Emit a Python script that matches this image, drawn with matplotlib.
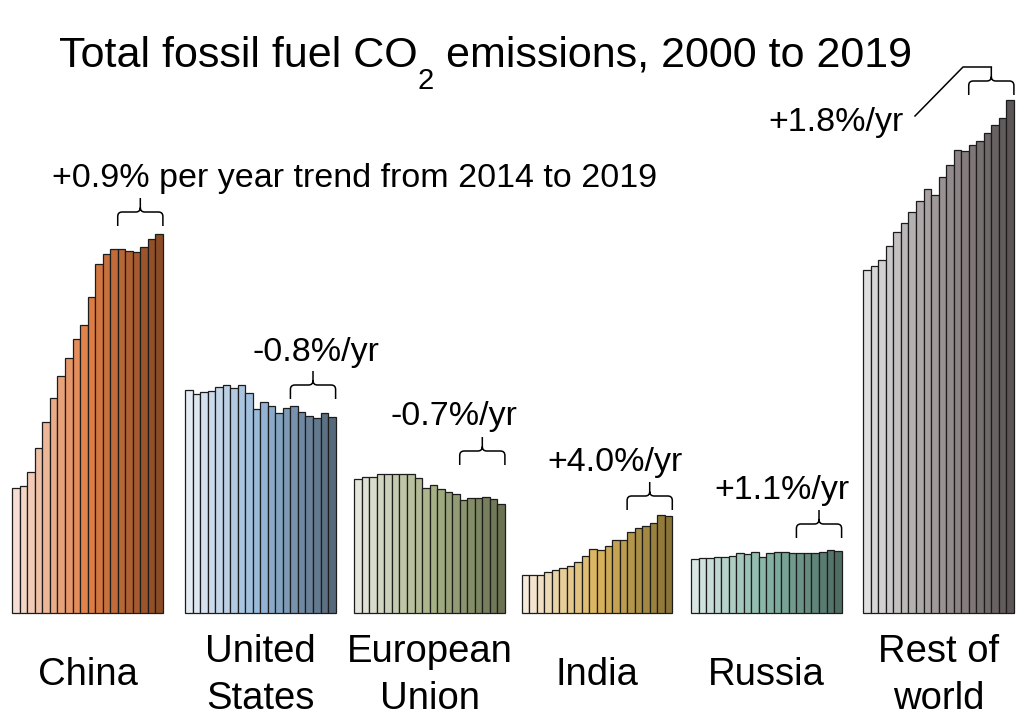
import matplotlib
matplotlib.use("Agg")
import matplotlib.pyplot as plt
from matplotlib.colors import LinearSegmentedColormap
from matplotlib.path import Path
from matplotlib.patches import PathPatch
import numpy as np

plt.rcParams['font.family'] = ['Liberation Sans', 'DejaVu Sans']

# ---------------- data (GtCO2 per year, 2000..2019) ----------------
years = list(range(2000, 2020))
regions = ["China", "United\nStates", "European\nUnion", "India", "Russia", "Rest of\nworld"]

china = [3.37, 3.42, 3.78, 4.44, 5.14, 5.77, 6.37, 6.86, 7.37, 7.74,
         8.49, 9.38, 9.64, 9.78, 9.79, 9.72, 9.70, 9.83, 10.05, 10.18]
usa = [5.99, 5.89, 5.93, 5.97, 6.07, 6.12, 6.04, 6.12, 5.91, 5.48,
       5.67, 5.56, 5.37, 5.50, 5.56, 5.41, 5.30, 5.25, 5.38, 5.27]
eu = [3.60, 3.66, 3.66, 3.74, 3.74, 3.74, 3.74, 3.73, 3.64, 3.35,
      3.44, 3.33, 3.26, 3.19, 3.04, 3.10, 3.09, 3.12, 3.06, 2.93]
india = [1.02, 1.02, 1.02, 1.09, 1.15, 1.20, 1.26, 1.38, 1.54, 1.71,
         1.69, 1.81, 1.97, 1.97, 2.17, 2.28, 2.35, 2.43, 2.63, 2.61]
russia = [1.45, 1.48, 1.48, 1.51, 1.51, 1.54, 1.60, 1.58, 1.63, 1.51,
          1.60, 1.65, 1.65, 1.60, 1.60, 1.60, 1.61, 1.63, 1.69, 1.66]
rest = [9.22, 9.33, 9.49, 9.87, 10.25, 10.49, 10.79, 11.08, 11.39, 11.24,
        11.73, 12.05, 12.44, 12.41, 12.58, 12.69, 12.91, 13.12, 13.31, 13.79]
series = [china, usa, eu, india, russia, rest]

trend_labels = ["+0.9% per year trend from 2014 to 2019", "-0.8%/yr", "-0.7%/yr",
                "+4.0%/yr", "+1.1%/yr", "+1.8%/yr"]
trend_start_year = 2014
title_parts = ["Total fossil fuel CO", "2", " emissions, 2000 to 2019"]

# ---------------- styling / layout ----------------
palettes = [
    ["#f6ded4", "#e07e44", "#8a4b25"],
    ["#e5ecf4", "#95b7d8", "#56697b"],
    ["#e4e6dc", "#a8b388", "#6a7252"],
    ["#f6eadc", "#dab45c", "#8a7436"],
    ["#d9e7e3", "#85b5a6", "#4e6e64"],
    ["#dfdfdf", "#9d9595", "#5c5555"],
]
group_left = [12.3, 185.0, 354.3, 521.7, 691.0, 863.3]
bar_w = 7.53
SCALE = 37.2          # pixels per Gt
BASE = 613.0          # baseline pixel row (from top)

def ypx(p):
    """pixel row (from top) -> data y"""
    return (BASE - p) / SCALE

fig = plt.figure(figsize=(10.24, 7.28), dpi=100)
ax = fig.add_axes([0, 0, 1, 1])
ax.set_xlim(0, 1024)
ax.set_ylim(ypx(728), ypx(0))
ax.axis("off")

for g, (vals, pal, x0) in enumerate(zip(series, palettes, group_left)):
    cmap = LinearSegmentedColormap.from_list(f"c{g}", pal)
    cols = [cmap(t) for t in np.linspace(0, 1, len(vals))]
    xs = [x0 + bar_w * (i + 0.5) for i in range(len(vals))]
    ax.bar(xs, vals, width=bar_w, color=cols, edgecolor="#1c1c1c", linewidth=0.9)

# group labels
LBL = 27.5
label_cx = [g0 + bar_w * 10 for g0 in group_left]
for name, cx in zip(regions, label_cx):
    lines = name.split("\n")
    if len(lines) == 1:
        ax.text(cx, ypx(685), lines[0], ha="center", va="baseline", fontsize=LBL)
    else:
        ax.text(cx, ypx(662), lines[0], ha="center", va="baseline", fontsize=LBL)
        ax.text(cx, ypx(709), lines[1], ha="center", va="baseline", fontsize=LBL)

# title built from pieces so the subscript hangs low as in the original
renderer = fig.canvas.get_renderer()
sizes = [31, 21, 31]
baselines = [67, 89, 67]
tmp = [ax.text(0, 0, s, fontsize=fs) for s, fs in zip(title_parts, sizes)]
widths = [t.get_window_extent(renderer).width for t in tmp]
for t in tmp:
    t.remove()
x = 485.5 - sum(widths) / 2
for s, fs, b, w in zip(title_parts, sizes, baselines, widths):
    ax.text(x, ypx(b), s, ha="left", va="baseline", fontsize=fs)
    x += w

# braces
def brace(x0, x1, yb, yt, r=4.5):
    yh = (yb + yt) / 2
    xc = (x0 + x1) / 2
    P = lambda x, y: (x, ypx(y))
    verts = [P(x0, yb), P(x0, yh + r), P(x0, yh), P(x0 + r, yh), P(xc - r, yh),
             P(xc, yh), P(xc, yh - r), P(xc, yt),
             P(xc, yh - r), P(xc, yh), P(xc + r, yh), P(x1 - r, yh),
             P(x1, yh), P(x1, yh + r), P(x1, yb)]
    codes = [Path.MOVETO, Path.LINETO, Path.CURVE3, Path.CURVE3, Path.LINETO,
             Path.CURVE3, Path.CURVE3, Path.LINETO,
             Path.MOVETO, Path.CURVE3, Path.CURVE3, Path.LINETO,
             Path.CURVE3, Path.CURVE3, Path.LINETO]
    ax.add_patch(PathPatch(Path(verts, codes), fill=False, lw=1.1, edgecolor="black",
                           capstyle="butt"))

k = trend_start_year - years[0]
n = len(years)
brace_y = [(226, 198), (399, 371), (465, 437), (510, 482), (538, 510), (95, 67)]
for g, (yb, yt) in enumerate(brace_y):
    bx0 = group_left[g] + bar_w * k
    bx1 = group_left[g] + bar_w * n
    brace(bx0, bx1, yb, yt)

# trend labels
text_pos = [(354.5, 187), (316, 361), (454, 425), (615, 471), (782, 499), (836, 131)]
for lab, (tx, ty) in zip(trend_labels, text_pos):
    ax.text(tx, ypx(ty), lab, ha="center", va="baseline", fontsize=24.5)

# leader line for rest of world
rx_c = group_left[5] + bar_w * (k + n) / 2
ax.plot([915, 963, rx_c], [ypx(116), ypx(67), ypx(67)], color="black", lw=1.1)

fig.savefig("out.png", dpi=100)
